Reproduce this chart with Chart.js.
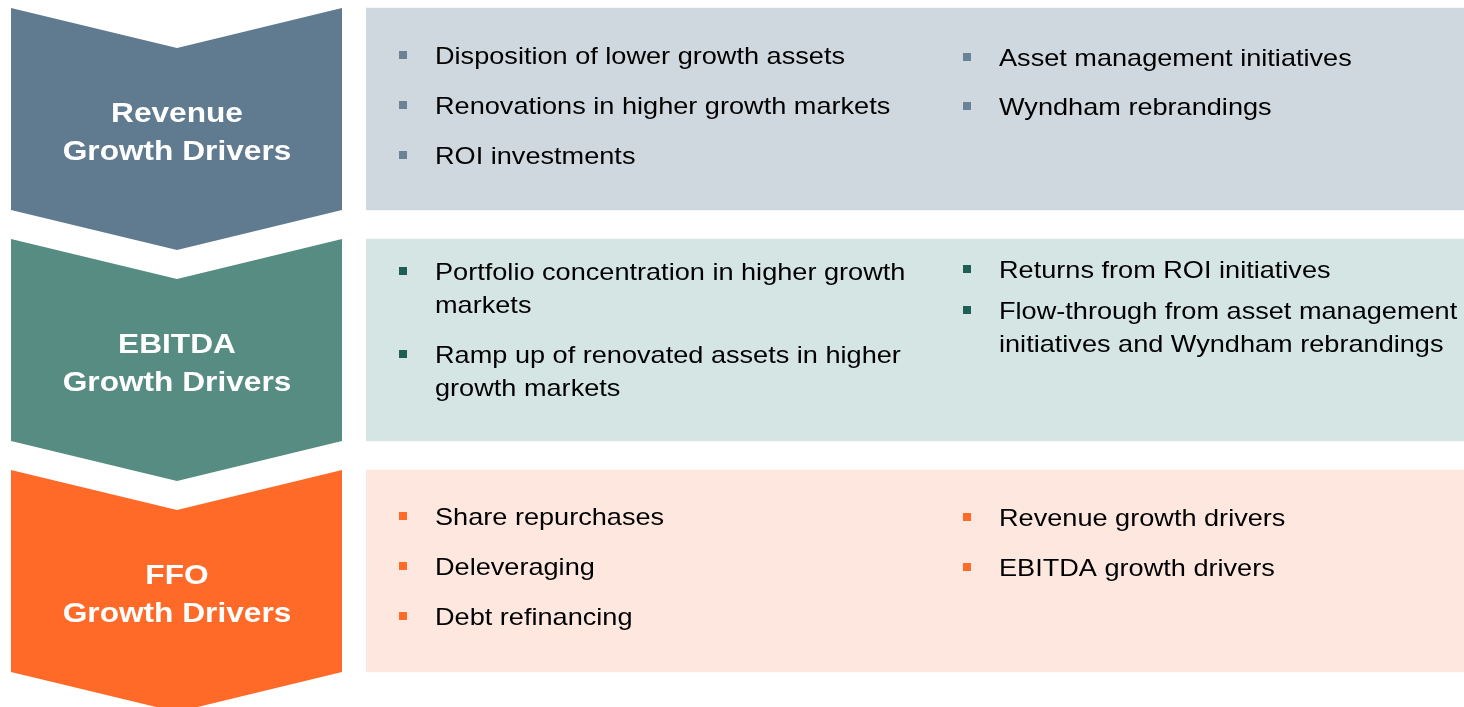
<!DOCTYPE html>
<html>
<head>
<meta charset="utf-8">
<script src="https://cdn.jsdelivr.net/npm/chart.js@4.4.0/dist/chart.umd.min.js"></script>
<style>
  html, body { margin: 0; padding: 0; background: #ffffff; }
  #wrap { width: 1464px; height: 707px; position: relative; }
</style>
</head>
<body>
<div id="wrap"><canvas id="drivers"></canvas></div>
<script>
// rows of the diagram (top to bottom)
var rowTitles = [['Revenue', 'Growth Drivers'], ['EBITDA', 'Growth Drivers'], ['FFO', 'Growth Drivers']];
var rowIndex = [0, 1, 2];
var boxValues = [1, 1, 1];

// bullet points, each item is a list of its lines
var leftItems = [
    [['Disposition of lower growth assets'], ['Renovations in higher growth markets'], ['ROI investments']],
    [['Portfolio concentration in higher growth', 'markets'], ['Ramp up of renovated assets in higher', 'growth markets']],
    [['Share repurchases'], ['Deleveraging'], ['Debt refinancing']]
];
var rightItems = [
    [['Asset management initiatives'], ['Wyndham rebrandings']],
    [['Returns from ROI initiatives'], ['Flow-through from asset management', 'initiatives and Wyndham rebrandings']],
    [['Revenue growth drivers'], ['EBITDA growth drivers']]
];

var chevronColors = ['#607B8F', '#568C81', '#FF6A28'];
var boxColors = ['#D0D8DF', '#D5E5E4', '#FDE7DF'];
var bulletColors = ['#6B8397', '#1F5E52', '#FF6A28'];

// text layout (offsets from the top of each box)
var leftFirst = [56, 41, 55];
var rightFirst = [58, 39, 56];
var leftGap = [50, 50, 50];
var rightGap = [49, 41, 50];
var lineGap = 33;
var stretch = 1.13;
var textFont = '24px "Liberation Sans", Arial, sans-serif';
var titleFont = 'bold 28px "Liberation Sans", Arial, sans-serif';

function stretchedText(ctx, text, x, y) {
    ctx.save();
    ctx.translate(x, y);
    ctx.scale(stretch, 1);
    ctx.fillText(text, 0, 0);
    ctx.restore();
}

function drawColumn(ctx, items, left, top, gap, bullet) {
    var y = top;
    items.forEach(function (lines) {
        ctx.fillStyle = bullet;
        ctx.fillRect(left, y - 13, 8, 8);
        ctx.fillStyle = '#000000';
        lines.forEach(function (line, k) {
            stretchedText(ctx, line, left + 36, y + k * lineGap);
        });
        y += (lines.length - 1) * lineGap + gap;
    });
}

var driversPlugin = {
    id: 'drivers',
    beforeDatasetsDraw: function (chart) {
        var ctx = chart.ctx;
        var bars = chart.getDatasetMeta(0).data;
        bars.forEach(function (bar, i) {
            var top = bar.y - bar.height / 2;
            var bottom = bar.y + bar.height / 2;
            var x0 = 11, x1 = 342, xm = 177, notch = 40;
            ctx.save();
            ctx.fillStyle = chevronColors[i];
            ctx.beginPath();
            ctx.moveTo(x0, top);
            ctx.lineTo(xm, top + notch);
            ctx.lineTo(x1, top);
            ctx.lineTo(x1, bottom);
            ctx.lineTo(xm, bottom + notch);
            ctx.lineTo(x0, bottom);
            ctx.closePath();
            ctx.fill();

            ctx.fillStyle = '#ffffff';
            ctx.font = titleFont;
            ctx.textAlign = 'center';
            ctx.textBaseline = 'alphabetic';
            stretchedText(ctx, rowTitles[i][0], xm, bar.y + 13);
            stretchedText(ctx, rowTitles[i][1], xm, bar.y + 51);
            ctx.restore();
        });
    },
    afterDatasetsDraw: function (chart) {
        var ctx = chart.ctx;
        var bars = chart.getDatasetMeta(0).data;
        bars.forEach(function (bar, i) {
            var top = bar.y - bar.height / 2;
            ctx.save();
            ctx.font = textFont;
            ctx.textAlign = 'left';
            ctx.textBaseline = 'alphabetic';
            drawColumn(ctx, leftItems[i], bar.base + 33, top + leftFirst[i], leftGap[i], bulletColors[i]);
            drawColumn(ctx, rightItems[i], bar.base + 597, top + rightFirst[i], rightGap[i], bulletColors[i]);
            ctx.restore();
        });
    }
};

var ctx = document.getElementById('drivers');
new Chart(ctx, {
    type: 'bar',
    data: {
        datasets: [{
            label: 'Growth Drivers',
            data: rowIndex.map(function (r, i) { return { x: boxValues[i], y: r }; }),
            backgroundColor: boxColors,
            borderWidth: 0,
            barThickness: 202
        }]
    },
    options: {
        indexAxis: 'y',
        responsive: true,
        maintainAspectRatio: false,
        animation: false,
        layout: { padding: { left: 366, right: 0, top: 0, bottom: 0 } },
        scales: {
            x: { type: 'linear', min: 0, max: 1, display: false, offset: false },
            y: { type: 'linear', min: -0.4719, max: 2.5887, reverse: true, display: false, offset: false }
        },
        plugins: {
            legend: { display: false },
            tooltip: { enabled: false }
        }
    },
    plugins: [driversPlugin]
});
</script>
</body>
</html>
